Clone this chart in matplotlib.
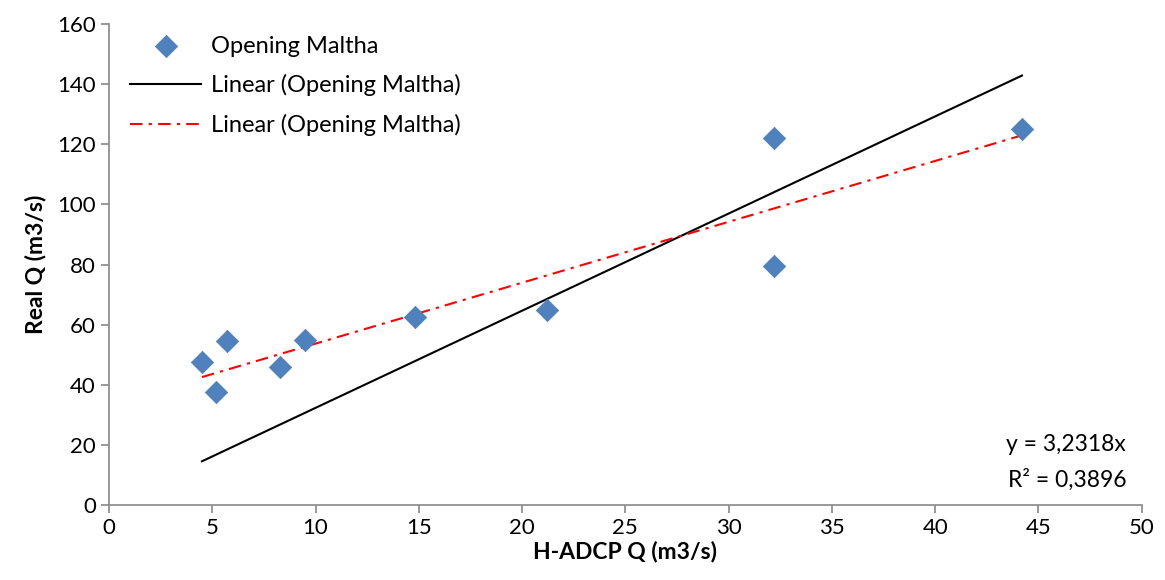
import matplotlib.pyplot as plt
import numpy as np

# H-ADCP discharge vs real discharge, Opening Maltha
hadcp_q = [4.5, 5.2, 5.7, 8.3, 9.5, 14.8, 21.2, 32.2, 32.2, 44.2]
real_q = [47.5, 37.5, 54.5, 46.0, 55.0, 62.5, 65.0, 122.0, 79.5, 125.0]
zero_slope = 3.2318
r2_text = "0,3896"

x = np.array(hadcp_q)
y = np.array(real_q)
xs = np.array([x.min(), x.max()])
slope, intercept = np.polyfit(x, y, 1)

plt.rcParams["font.family"] = ["Lato", "DejaVu Sans"]

fig = plt.figure(figsize=(11.65, 5.8), dpi=100)
ax = fig.add_axes([0.0936, 0.1293, 0.8864, 0.8293])

ax.scatter(x, y, marker="D", s=130, color="#4F81BD", edgecolor="#4A7EBB",
           linewidth=0.5, zorder=3, label="Opening Maltha")
ax.plot(xs, zero_slope * xs, color="black", linewidth=1.5,
        label="Linear (Opening Maltha)")
ax.plot(xs, slope * xs + intercept, color="red", linewidth=1.5,
        linestyle=(0, (6, 3, 1.5, 3)), label="Linear (Opening Maltha)")

ax.set_xlim(0, 50)
ax.set_ylim(0, 160)
ax.set_xticks(range(0, 51, 5))
ax.set_yticks(range(0, 161, 20))
for s in ["top", "right"]:
    ax.spines[s].set_visible(False)
for s in ["left", "bottom"]:
    ax.spines[s].set_color("#888888")
    ax.spines[s].set_linewidth(1.2)
ax.tick_params(colors="#888888", labelcolor="black", labelsize=16,
               length=6, width=1.2)

ax.set_xlabel("H-ADCP Q (m3/s)", fontsize=16.5, fontweight="bold", labelpad=2)
ax.set_ylabel("Real Q (m3/s)", fontsize=16.5, fontweight="bold", labelpad=8)

ax.legend(loc="upper left", bbox_to_anchor=(0.0, 1.02), frameon=False,
          fontsize=17, handlelength=3.0, handletextpad=0.4,
          labelspacing=0.75)

ax.text(0.985, 0.125, f"y = {zero_slope:.4f}x".replace(".", ","),
        transform=ax.transAxes, ha="right", va="center", fontsize=16.5)
ax.text(0.985, 0.052, f"R² = {r2_text}", transform=ax.transAxes,
        ha="right", va="center", fontsize=16.5)

plt.savefig("out.png", dpi=100)
plt.close()
